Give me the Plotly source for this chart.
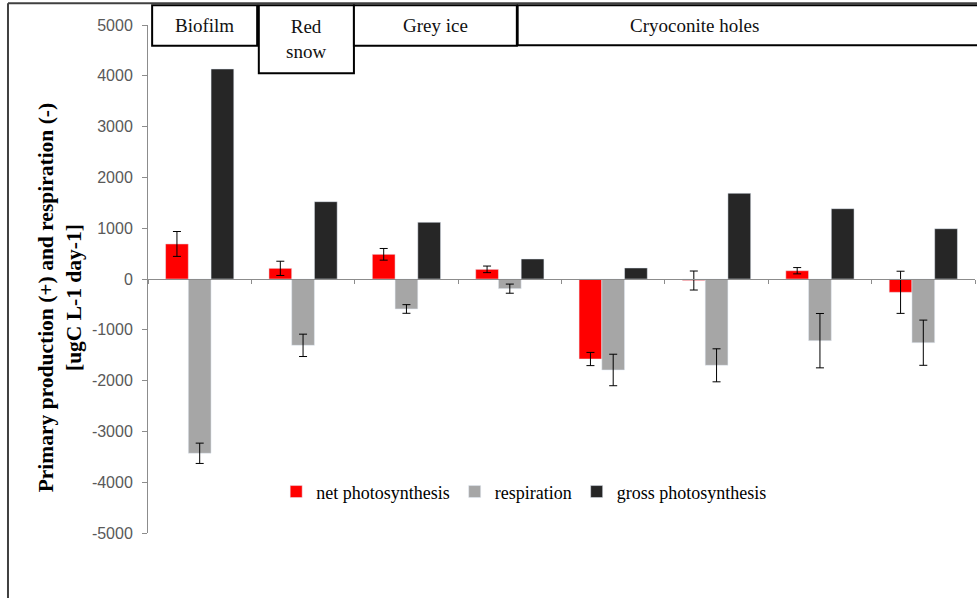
import plotly.graph_objects as go

# ---- data ----
sites = ["Biofilm", "Red snow", "Grey ice 1", "Grey ice 2",
         "Cryoconite 1", "Cryoconite 2", "Cryoconite 3", "Cryoconite 4"]
net = [690, 210, 486, 190, -1575, -30, 163, -262]
net_err = [245, 140, 115, 65, 130, 187, 62, 415]
resp = [-3431, -1306, -590, -190, -1791, -1699, -1214, -1254]
resp_err = [200, 220, 85, 90, 310, 325, 535, 445]
gross = [4134, 1522, 1116, 394, 217, 1687, 1384, 990]
series_names = ["net photosynthesis", "respiration", "gross photosynthesis"]
group_labels = ["Biofilm", "Red<br>snow", "Grey ice", "Cryoconite holes"]
y_ticks = [5000, 4000, 3000, 2000, 1000, 0, -1000, -2000, -3000, -4000, -5000]
y_title = "<b>Primary production (+) and respiration (-)<br>[ugC L-1 day-1]</b>"

SERIF = "Liberation Serif, Times New Roman, serif"

# ---- layout constants (paper coords) ----
box_x = [(0.005, 0.132), (0.134, 0.249), (0.249, 0.446), (0.447, 1.02)]
box_label_x = [0.0685, 0.1915, 0.3475, 0.661]
box_y0 = [0.959, 0.905, 0.959, 0.960]
box_top = 1.039

xs = list(range(len(sites)))
err_style = dict(type="data", color="black", thickness=1, width=4)

fig = go.Figure()
fig.add_trace(go.Bar(x=xs, y=net, name=series_names[0], marker_color="#FF0000",
                     error_y=dict(array=net_err, **err_style)))
fig.add_trace(go.Bar(x=xs, y=resp, name=series_names[1], marker_color="#A6A6A6",
                     error_y=dict(array=resp_err, **err_style)))
fig.add_trace(go.Bar(x=xs, y=gross, name=series_names[2], marker_color="#262626"))

shapes = []
annotations = []
for (x0, x1), lx, y0, lab in zip(box_x, box_label_x, box_y0, group_labels):
    shapes.append(dict(type="rect", xref="paper", yref="paper", x0=x0, x1=x1,
                       y0=y0, y1=box_top, line=dict(color="black", width=2),
                       fillcolor="white", layer="above"))
    annotations.append(dict(xref="paper", yref="paper", x=lx,
                            y=(y0 + box_top) / 2, text=lab, showarrow=False,
                            font=dict(family=SERIF, size=19, color="#111111"),
                            xanchor="center", yanchor="middle"))
# outer frame (left and top edges)
shapes.append(dict(type="line", xref="paper", yref="paper", x0=-0.1693, x1=-0.1693,
                   y0=1.043, y1=-0.14, line=dict(color="#404040", width=2)))
shapes.append(dict(type="line", xref="paper", yref="paper", x0=-0.1693, x1=1.01,
                   y0=1.043, y1=1.043, line=dict(color="#404040", width=2)))

annotations.append(dict(xref="paper", yref="paper", x=-0.107, y=0.463, text=y_title,
                        textangle=-90, showarrow=False, xanchor="center", yanchor="middle",
                        font=dict(family=SERIF, size=21.5, color="black"),
                        align="center"))

fig.update_layout(
    width=977, height=598,
    margin=dict(l=148, r=2, t=25, b=65),
    plot_bgcolor="white", paper_bgcolor="white",
    barmode="group", bargap=0.34, bargroupgap=0,
    showlegend=True,
    legend=dict(orientation="h", x=0.155, y=0.081, xanchor="left", yanchor="middle",
                font=dict(family=SERIF, size=18, color="black"),
                bgcolor="rgba(0,0,0,0)", itemwidth=30, tracegroupgap=0),
    xaxis=dict(range=[-0.5, 7.5], anchor="free", position=0.5,
               showline=True, linecolor="#8C8C8C", linewidth=1,
               tickvals=[i - 0.5 for i in range(9)], ticktext=[""] * 9,
               ticks="outside", ticklen=4, tickcolor="#8C8C8C",
               showgrid=False, zeroline=False),
    yaxis=dict(range=[-5000, 5000], tickvals=y_ticks, ticktext=[str(v) for v in y_ticks],
               showline=True, linecolor="#8C8C8C", linewidth=1,
               ticks="outside", ticklen=5, tickcolor="#8C8C8C",
               showgrid=False, zeroline=False,
               tickfont=dict(family="Liberation Sans", size=16, color="#595959"),
               ticklabelstandoff=6),
    shapes=shapes,
    annotations=annotations,
)

fig.write_html("out.html")
